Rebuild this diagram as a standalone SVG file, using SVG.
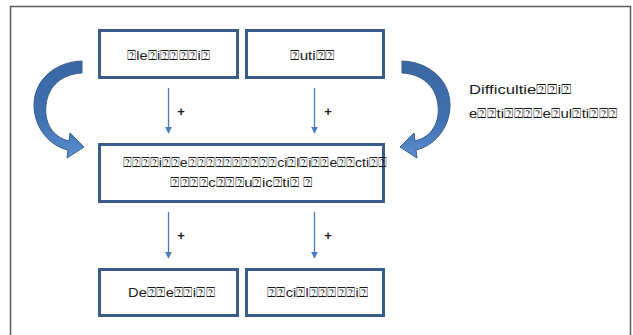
<svg xmlns="http://www.w3.org/2000/svg" width="633" height="335" viewBox="0 0 633 335">
  <style>
    .box { fill: #ffffff; stroke: #385d8a; stroke-width: 3; }
    .lbl { font-family: "Liberation Sans", "DejaVu Sans", sans-serif; font-size: 12.5px; fill: #1a1a1a; }
    .plus { font-family: "Liberation Sans", sans-serif; font-size: 13px; font-weight: bold; fill: #1a1a1a; text-anchor: middle; }
    .link { stroke: #4a7ebb; stroke-width: 1.3; fill: none; marker-end: url(#tri); }
    .bend { fill: url(#bendFill); stroke: #385d8a; stroke-width: 1; }
  </style>
  <defs>
    <marker id="tri" viewBox="0 0 10 10" refX="9" refY="5" markerWidth="7" markerHeight="7" markerUnits="userSpaceOnUse" orient="auto">
      <path d="M0,0 L10,5 L0,10 Z" fill="#4a7ebb"/>
    </marker>
    <linearGradient id="bendFill" x1="0" y1="0" x2="0" y2="1">
      <stop offset="0" stop-color="#3a67a3"/>
      <stop offset="0.6" stop-color="#3f70b0"/>
      <stop offset="1" stop-color="#5b8fd0"/>
    </linearGradient>
  </defs>

  <!-- outer frame -->
  <rect x="10.5" y="6.5" width="620" height="340" fill="#ffffff" stroke="#5a5a5a" stroke-width="1.5"/>

  <!-- curved feedback arrows -->
  <g id="bend-left">
    <path class="bend" d="M82,61 C55,62 34,80 34,105 C34,128 50,146 68,150 L67,158 L84,147 L70,133 L69,141 C52,137 44,122 46,105 C48,86 62,74 82,73 Z"/>
  </g>
  <g id="bend-right" transform="translate(484,0) scale(-1,1)">
    <path class="bend" d="M82,61 C55,62 34,80 34,105 C34,128 50,146 68,150 L67,158 L84,147 L70,133 L69,141 C52,137 44,122 46,105 C48,86 62,74 82,73 Z"/>
  </g>

  <!-- connectors -->
  <g id="connectors">
    <line class="link" x1="168.5" y1="88" x2="168.5" y2="133"/>
    <line class="link" x1="314.5" y1="88" x2="314.5" y2="133"/>
    <line class="link" x1="168.5" y1="212" x2="168.5" y2="258"/>
    <line class="link" x1="314.5" y1="212" x2="314.5" y2="258"/>
    <text class="plus" x="181" y="116">+</text>
    <text class="plus" x="328" y="116">+</text>
    <text class="plus" x="181" y="240">+</text>
    <text class="plus" x="328" y="240">+</text>
  </g>

  <!-- nodes -->
  <g id="node-top-left">
    <rect class="box" x="99.5" y="30.5" width="138" height="47"/>
    <text class="lbl" x="127" y="60" textLength="83" lengthAdjust="spacingAndGlyphs">⍰le⍰i⍰⍰⍰⍰i⍰</text>
  </g>
  <g id="node-top-right">
    <rect class="box" x="246.5" y="30.5" width="137" height="47"/>
    <text class="lbl" x="290" y="60" textLength="45" lengthAdjust="spacingAndGlyphs">⍰uti⍰⍰</text>
  </g>
  <g id="node-middle">
    <rect class="box" x="99.5" y="144.5" width="284" height="57"/>
    <text class="lbl" x="123" y="167" textLength="264" lengthAdjust="spacingAndGlyphs">⍰⍰⍰⍰i⍰⍰e⍰⍰⍰⍰⍰⍰⍰⍰⍰⍰ci⍰l⍰i⍰⍰e⍰⍰cti⍰⍰</text>
    <text class="lbl" x="170" y="187" textLength="143" lengthAdjust="spacingAndGlyphs">⍰⍰⍰⍰c⍰⍰⍰u⍰ic⍰ti⍰ ⍰</text>
  </g>
  <g id="node-bottom-left">
    <rect class="box" x="99.5" y="269.5" width="138" height="46"/>
    <text class="lbl" x="128" y="297" textLength="87" lengthAdjust="spacingAndGlyphs">De⍰⍰e⍰⍰i⍰⍰</text>
  </g>
  <g id="node-bottom-right">
    <rect class="box" x="246.5" y="269.5" width="137" height="46"/>
    <text class="lbl" x="267" y="297" textLength="101" lengthAdjust="spacingAndGlyphs">⍰⍰ci⍰l⍰⍰⍰⍰⍰i⍰</text>
  </g>
  <g id="note-right">
    <text class="lbl" x="469" y="94" textLength="103" lengthAdjust="spacingAndGlyphs">Difficultie⍰⍰i⍰</text>
    <text class="lbl" x="469" y="118" textLength="149" lengthAdjust="spacingAndGlyphs">e⍰⍰ti⍰⍰⍰⍰e⍰ul⍰ti⍰⍰⍰</text>
  </g>
</svg>
